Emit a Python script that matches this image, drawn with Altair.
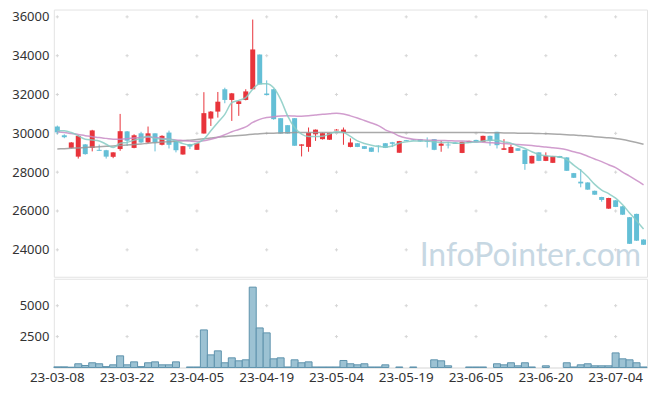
import altair as alt
import pandas as pd
import numpy as np

dates = [
    "23-03-08", "23-03-09", "23-03-10", "23-03-13", "23-03-14", "23-03-15", "23-03-16", "23-03-17",
    "23-03-20", "23-03-21", "23-03-22", "23-03-23", "23-03-24", "23-03-27", "23-03-28", "23-03-29",
    "23-03-30", "23-03-31", "23-04-03", "23-04-04", "23-04-05", "23-04-06", "23-04-07", "23-04-10",
    "23-04-11", "23-04-12", "23-04-13", "23-04-14", "23-04-17", "23-04-18", "23-04-19", "23-04-20",
    "23-04-21", "23-04-24", "23-04-25", "23-04-26", "23-04-27", "23-04-28", "23-05-02", "23-05-03",
    "23-05-04", "23-05-08", "23-05-09", "23-05-10", "23-05-11", "23-05-12", "23-05-15", "23-05-16",
    "23-05-17", "23-05-18", "23-05-19", "23-05-22", "23-05-23", "23-05-24", "23-05-25", "23-05-26",
    "23-05-30", "23-05-31", "23-06-01", "23-06-02", "23-06-05", "23-06-07", "23-06-08", "23-06-09",
    "23-06-12", "23-06-13", "23-06-14", "23-06-15", "23-06-16", "23-06-19", "23-06-20", "23-06-21",
    "23-06-22", "23-06-23", "23-06-26", "23-06-27", "23-06-28", "23-06-29", "23-06-30", "23-07-03",
    "23-07-04", "23-07-05", "23-07-06", "23-07-07", "23-07-10",
]

opens = [
    30350, 29900, 29250, 28800, 29430, 29250, 29150, 29130, 28790, 29190,
    30100, 29250, 30000, 29530, 30000, 29410, 30040, 29610, 28910, 29440,
    29150, 29990, 30760, 31120, 32270, 31720, 31510, 31720, 32270, 34060,
    32050, 32270, 30780, 30420, 30780, 29360, 29300, 29950, 29700, 29670,
    30150, 30050, 29300, 29490, 29340, 29270, 29370, 29490, 29540, 29000,
    29650, 29680, 29700, 29600, 29700, 29360, 29420, 29530, 28990, 29530,
    29660, 29560, 29870, 30080, 29150, 28990, 29230, 29150, 28450, 29020,
    28580, 28480, 28830, 28760, 27950, 27510, 27470, 27040, 26720, 26120,
    26550, 26240, 25680, 25850, 24530,
]
highs = [
    30400, 29950, 29550, 29900, 29450, 30180, 29420, 29150, 29030, 31000,
    30120, 29950, 30080, 30350, 30000, 29900, 30140, 29630, 29350, 29460,
    29500, 32120, 31150, 32130, 32350, 32080, 31680, 32270, 35860, 34060,
    32730, 32300, 30780, 30420, 30780, 29440, 30300, 30200, 30040, 30030,
    30220, 30300, 29740, 29500, 29350, 29280, 29380, 29500, 29560, 29610,
    29660, 29690, 29710, 29790, 29700, 29610, 29560, 29540, 29570, 29620,
    29670, 29880, 29880, 30080, 29700, 29410, 29240, 29150, 28850, 29020,
    29020, 28840, 28840, 28770, 27960, 28160, 27480, 27050, 26730, 26680,
    26560, 26250, 25690, 25860, 24540,
]
lows = [
    29950, 29750, 29230, 28700, 28900, 29070, 29100, 28700, 28720, 29100,
    29350, 29230, 29500, 29500, 29070, 29380, 29220, 29020, 28900, 29190,
    29150, 29990, 30380, 30810, 31550, 30640, 30900, 31700, 32270, 32520,
    31970, 30700, 29990, 29990, 29360, 28810, 29050, 29610, 29680, 29660,
    30150, 29410, 29280, 29290, 29190, 29040, 29020, 29240, 29290, 29000,
    29590, 29630, 29560, 29270, 29130, 29050, 29220, 29450, 28980, 29520,
    29520, 29550, 29360, 29220, 29150, 28980, 29090, 28120, 28440, 28570,
    28570, 28470, 28730, 28060, 27700, 27220, 27090, 26830, 26480, 26110,
    26200, 25800, 24300, 24460, 24250,
]
closes = [
    30050, 29800, 29530, 29870, 28930, 30150, 29100, 28800, 29020, 30110,
    29620, 29900, 29530, 30000, 29530, 29870, 29410, 29130, 29340, 29320,
    29490, 31040, 31120, 31630, 31720, 32060, 31650, 32160, 34320, 32520,
    31970, 30730, 29990, 29990, 29360, 29430, 30040, 30190, 30010, 30010,
    30190, 30190, 29530, 29300, 29200, 29050, 29350, 29250, 29460, 29600,
    29600, 29640, 29580, 29560, 29150, 29470, 29380, 29460, 29560, 29610,
    29530, 29870, 29610, 29390, 29230, 29300, 29100, 28420, 28840, 28580,
    28840, 28830, 28740, 28070, 27710, 27420, 27100, 26840, 26570, 26670,
    26210, 25810, 24310, 24470, 24260,
]
volumes = [
    50, 50, 20, 300, 160, 380, 300, 70, 215, 940,
    215, 455, 70, 380, 455, 215, 215, 455, 0, 40,
    40, 3040, 1020, 1345, 380, 780, 540, 620, 6500, 3200,
    2800, 700, 780, 40, 620, 380, 455, 40, 40, 40,
    40, 565, 300, 215, 300, 40, 40, 215, 0, 40,
    0, 40, 0, 0, 620, 540, 135, 0, 0, 40,
    40, 40, 0, 300, 215, 380, 135, 380, 40, 0,
    135, 0, 0, 380, 40, 215, 300, 135, 135, 135,
    1180, 700, 620, 380, 40,
]
ma5 = [
    30130, 30130, 30040, 29870, 29700, 29660, 29610, 29440, 29270, 29490,
    29530, 29650, 29740, 29850, 29740, 29700, 29700, 29610, 29470, 29400,
    29490, 29700, 30130, 30560, 30980, 31580, 31700, 31840, 32270, 32560,
    32560, 32350, 31750, 30900, 30300, 29960, 29840, 29840, 29850, 29960,
    30080, 30040, 29840, 29610, 29480, 29390, 29320, 29300, 29350, 29490,
    29560, 29610, 29610, 29610, 29560, 29530, 29530, 29490, 29490, 29530,
    29560, 29610, 29640, 29640, 29560, 29490, 29350, 29220, 29050, 28910,
    28840, 28810, 28780, 28650, 28360, 28100, 27760, 27370, 27080, 26890,
    26660, 26320, 25900, 25500, 25070,
]
ma20 = [
    30080, 30040, 29990, 29940, 29880, 29830, 29780, 29740, 29700, 29700,
    29720, 29760, 29790, 29800, 29780, 29740, 29700, 29660, 29630, 29600,
    29580, 29620, 29700, 29800, 29930, 30080, 30200, 30330, 30560, 30720,
    30810, 30860, 30890, 30900, 30890, 30880, 30900, 30940, 30980, 31010,
    31040, 31000, 30900, 30790, 30660, 30530, 30400, 30180, 30040, 29860,
    29760, 29700, 29670, 29650, 29640, 29630, 29620, 29610, 29600, 29580,
    29560, 29540, 29520, 29500, 29470, 29450, 29420, 29400, 29370, 29330,
    29300, 29260, 29220, 29150, 29050, 28960, 28820, 28680, 28540, 28380,
    28230, 28000, 27800, 27580, 27350,
]
ma60 = [
    29190, 29210, 29230, 29250, 29270, 29290, 29310, 29330, 29350, 29370,
    29400, 29420, 29450, 29490, 29520, 29550, 29570, 29600, 29620, 29650,
    29680, 29720, 29760, 29800, 29830, 29860, 29890, 29920, 29950, 29980,
    30000, 30010, 30020, 30030, 30040, 30040, 30040, 30040, 30040, 30040,
    30040, 30040, 30040, 30040, 30040, 30040, 30040, 30040, 30040, 30040,
    30040, 30040, 30040, 30040, 30040, 30040, 30040, 30040, 30040, 30040,
    30040, 30040, 30030, 30030, 30020, 30020, 30010, 30010, 30000, 29990,
    29980, 29970, 29950, 29930, 29910, 29890, 29860, 29830, 29800, 29770,
    29730, 29680, 29610, 29530, 29440,
]

label_dates = ["23-03-08", "23-03-22", "23-04-05", "23-04-19", "23-05-04",
               "23-05-19", "23-06-05", "23-06-20", "23-07-04"]
price_ticks = [24000, 26000, 28000, 30000, 32000, 34000, 36000]
vol_ticks = [2500, 5000]

PLOT_W = 595
PRICE_H = 268
VOL_H = 89
UP = "#e8343b"
DOWN = "#64bfd6"
FONT = "Noto Sans"

df = pd.DataFrame({"date": dates, "open": opens, "high": highs, "low": lows,
                   "close": closes, "volume": volumes})
df["dir"] = np.where(df["close"] >= df["open"], "up", "down")

ma_df = pd.concat([
    pd.DataFrame({"date": dates, "value": ma60, "series": "MA60"}),
    pd.DataFrame({"date": dates, "value": ma20, "series": "MA20"}),
    pd.DataFrame({"date": dates, "value": ma5, "series": "MA5"}),
])

grid_price = pd.DataFrame([(d, t) for d in label_dates for t in price_ticks], columns=["date", "value"])
grid_vol = pd.DataFrame([(d, t) for d in label_dates for t in vol_ticks], columns=["date", "value"])

x_scale = alt.Scale(domain=dates, paddingInner=0, paddingOuter=0)
x_none = alt.X("date:O", scale=x_scale, axis=None)

price_y = alt.Scale(domain=[22613, 36375], nice=False, zero=False)
price_axis = alt.Axis(values=price_ticks, format="d", grid=False, ticks=False, domain=False,
                      title=None, labelPadding=5, minExtent=48, maxExtent=48)
dir_color = alt.Color("dir:N", scale=alt.Scale(domain=["up", "down"], range=[UP, DOWN]), legend=None)

cross = "M-1,0H1M0,-1V1"

base = alt.Chart(df)

price_grid = alt.Chart(grid_price).mark_point(
    shape=cross, filled=False, stroke="#d6d6d6", strokeWidth=1, size=10, opacity=1
).encode(x=x_none, y=alt.Y("value:Q", scale=price_y, axis=price_axis))

wick = base.mark_rule(strokeWidth=1).encode(
    x=x_none,
    y=alt.Y("low:Q", scale=price_y, axis=price_axis),
    y2="high:Q",
    color=dir_color,
)
body = base.mark_bar(size=5).encode(
    x=x_none,
    y=alt.Y("open:Q", scale=price_y, axis=price_axis),
    y2="close:Q",
    color=dir_color,
)
ma_lines = alt.Chart(ma_df).mark_line(strokeWidth=1.5, opacity=0.85, interpolate="monotone").encode(
    x=x_none,
    y=alt.Y("value:Q", scale=price_y, axis=price_axis),
    color=alt.Color("series:N", scale=alt.Scale(domain=["MA60", "MA20", "MA5"],
                                                range=["#9a9a9a", "#c98cc5", "#87cbc3"]), legend=None),
    detail="series:N",
)
watermark = alt.Chart(pd.DataFrame({"t": ["InfoPointer.com"]})).mark_text(
    font="Lato", fontSize=32, color="#b5cbda", opacity=0.75, align="center", baseline="alphabetic"
).encode(text="t:N", x=alt.value(478), y=alt.value(257))

price = alt.layer(price_grid, wick, body, ma_lines, watermark).resolve_scale(color="independent").properties(
    width=PLOT_W, height=PRICE_H)

vol_y = alt.Scale(domain=[0, 7180], nice=False)
vol_axis = alt.Axis(values=vol_ticks, format="d", grid=False, ticks=False, domain=False, title=None,
                    labelPadding=5, minExtent=48, maxExtent=48)
x_axis = alt.Axis(values=label_dates, labelAngle=0, ticks=False, domain=True, domainColor="#e3e3e3",
                  title=None, labelPadding=3, labelFontSize=13.5)

vol_grid = alt.Chart(grid_vol).mark_point(
    shape=cross, filled=False, stroke="#d6d6d6", strokeWidth=1, size=10, opacity=1
).encode(x=alt.X("date:O", scale=x_scale, axis=x_axis), y=alt.Y("value:Q", scale=vol_y, axis=vol_axis))

vol_bars = base.transform_filter("datum.volume > 0").mark_bar(
    fill="#9cc2d3", stroke="#5e93ad", strokeWidth=1, opacity=1
).encode(
    x=alt.X("date:O", scale=x_scale, axis=x_axis),
    y=alt.Y("volume:Q", scale=vol_y, axis=vol_axis),
)

volume = alt.layer(vol_grid, vol_bars).properties(width=PLOT_W, height=VOL_H)

chart = alt.vconcat(price, volume, spacing=0).properties(
    padding={"left": 5, "top": 8, "right": 9, "bottom": 5},
    background="white",
).configure_view(stroke="#e3e3e3", strokeWidth=1).configure_axis(
    labelFont=FONT, labelFontSize=13, labelColor="#333333"
)

chart.save("out.html", embed_options={"renderer": "svg", "actions": False})
